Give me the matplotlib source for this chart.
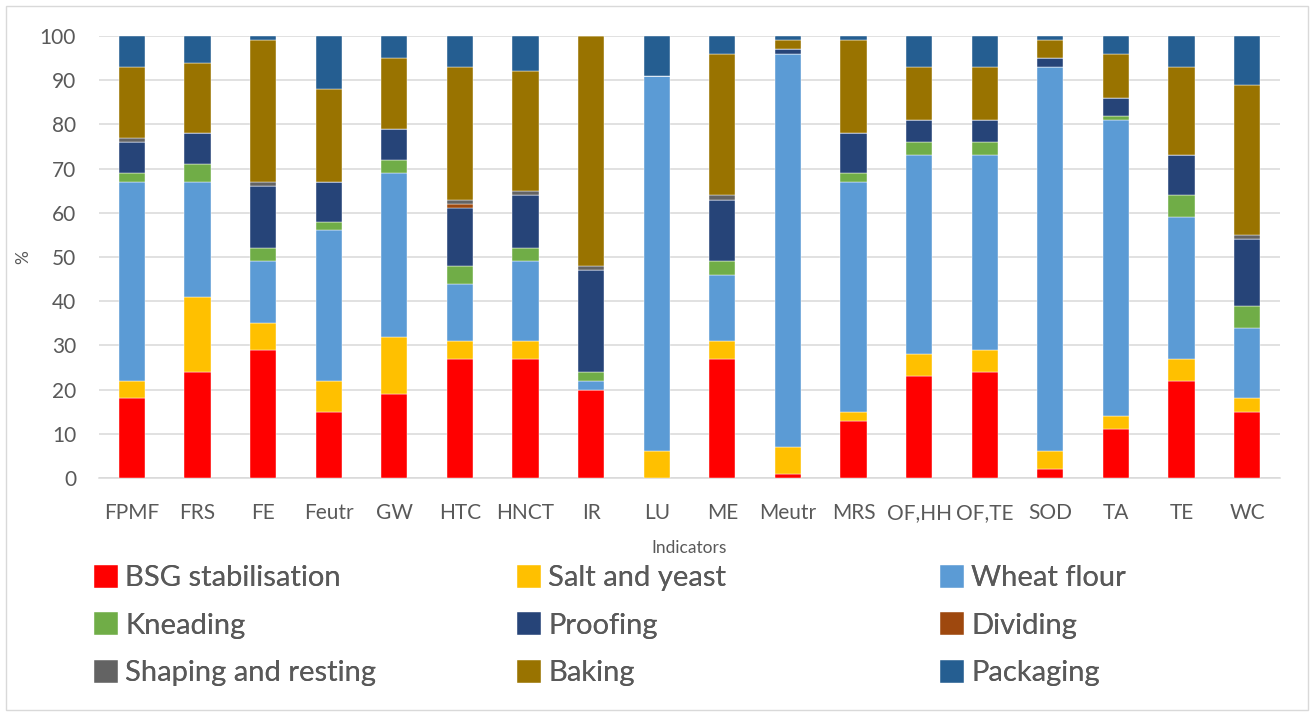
import matplotlib
matplotlib.use("Agg")
import matplotlib.pyplot as plt
from matplotlib.patches import Rectangle
import numpy as np

plt.rcParams['font.family'] = ['Lato', 'DejaVu Sans']

indicators = ["FPMF", "FRS", "FE", "Feutr", "GW", "HTC", "HNCT", "IR", "LU",
              "ME", "Meutr", "MRS", "OF,HH", "OF,TE", "SOD", "TA", "TE", "WC"]

bsg_stabilisation = [18, 24, 29, 15, 19, 27, 27, 20, 0, 27, 1, 13, 23, 24, 2, 11, 22, 15]
salt_and_yeast    = [4, 17, 6, 7, 13, 4, 4, 0, 6, 4, 6, 2, 5, 5, 4, 3, 5, 3]
wheat_flour       = [45, 26, 14, 34, 37, 13, 18, 2, 85, 15, 89, 52, 45, 44, 87, 67, 32, 16]
kneading          = [2, 4, 3, 2, 3, 4, 3, 2, 0, 3, 0, 2, 3, 3, 0, 1, 5, 5]
proofing          = [7, 7, 14, 9, 7, 13, 12, 23, 0, 14, 1, 9, 5, 5, 2, 4, 9, 15]
dividing          = [0, 0, 0, 0, 0, 1, 0, 0, 0, 0, 0, 0, 0, 0, 0, 0, 0, 0]
shaping_resting   = [1, 0, 1, 0, 0, 1, 1, 1, 0, 1, 0, 0, 0, 0, 0, 0, 0, 1]
baking            = [16, 16, 32, 21, 16, 30, 27, 52, 0, 32, 2, 21, 12, 12, 4, 10, 20, 34]
packaging         = [7, 6, 1, 12, 5, 7, 8, 0, 9, 4, 1, 1, 7, 7, 1, 4, 7, 11]

stages = ["BSG stabilisation", "Salt and yeast", "Wheat flour", "Kneading",
          "Proofing", "Dividing", "Shaping and resting", "Baking", "Packaging"]
series = [bsg_stabilisation, salt_and_yeast, wheat_flour, kneading, proofing,
          dividing, shaping_resting, baking, packaging]
colors = ["#FF0000", "#FFC000", "#5B9BD5", "#70AD47", "#264478",
          "#9E480E", "#636363", "#997300", "#255E91"]

text_color = "#595959"
grid_color = "#D9D9D9"

fig = plt.figure(figsize=(13.12, 7.13), dpi=100)
ax = fig.add_axes([0.0755, 0.3296, 0.9001, 0.6199])

x = np.arange(len(indicators))
bottom = np.zeros(len(indicators))
handles = []
for name, vals, col in zip(stages, series, colors):
    vals = np.array(vals, dtype=float)
    bars = ax.bar(x, vals, width=0.4, bottom=bottom, color=col,
                  edgecolor="white", linewidth=0.3, label=name, zorder=3)
    handles.append(bars)
    bottom += vals

ax.set_xlim(-0.5, len(indicators) - 0.5)
ax.set_ylim(0, 100)
ax.set_yticks(np.arange(0, 101, 10))
ax.set_xticks(x)
ax.set_xticklabels(indicators)
ax.tick_params(axis="both", length=0, labelsize=15, colors=text_color)
ax.tick_params(axis="x", pad=18)
ax.tick_params(axis="y", pad=16.5)
ax.yaxis.grid(True, color=grid_color, linewidth=1.1, zorder=0)
ax.set_axisbelow(True)
for side in ["left", "right", "top"]:
    ax.spines[side].set_visible(False)
ax.spines["bottom"].set_color(grid_color)
ax.spines["bottom"].set_linewidth(1.1)

ax.set_xlabel("Indicators", fontsize=12.5, color=text_color, labelpad=12)
ax.set_ylabel("%", fontsize=12.5, color=text_color)
ax.yaxis.set_label_coords(-0.0576, 0.5)

# Legend laid out as three equal-width columns, filled row by row
col_x = [94 / 1312, 517 / 1312, 940 / 1312]
for c in range(3):
    idx = [c, c + 3, c + 6]
    leg = fig.legend([handles[i] for i in idx], [stages[i] for i in idx],
                     loc="upper left", bbox_to_anchor=(col_x[c], 1 - 565 / 713),
                     frameon=False, fontsize=21, labelcolor=text_color,
                     handlelength=0.82, handleheight=0.82, handletextpad=0.25,
                     labelspacing=0.72, borderpad=0, borderaxespad=0)
    fig.add_artist(leg)

# Light outer frame around the chart area
fig.patches.append(Rectangle((6 / 1312, 3 / 713), 1302 / 1312, 704 / 713,
                             transform=fig.transFigure, fill=False,
                             edgecolor=grid_color, linewidth=1.0))

fig.savefig("out.png", dpi=100, facecolor="white")
